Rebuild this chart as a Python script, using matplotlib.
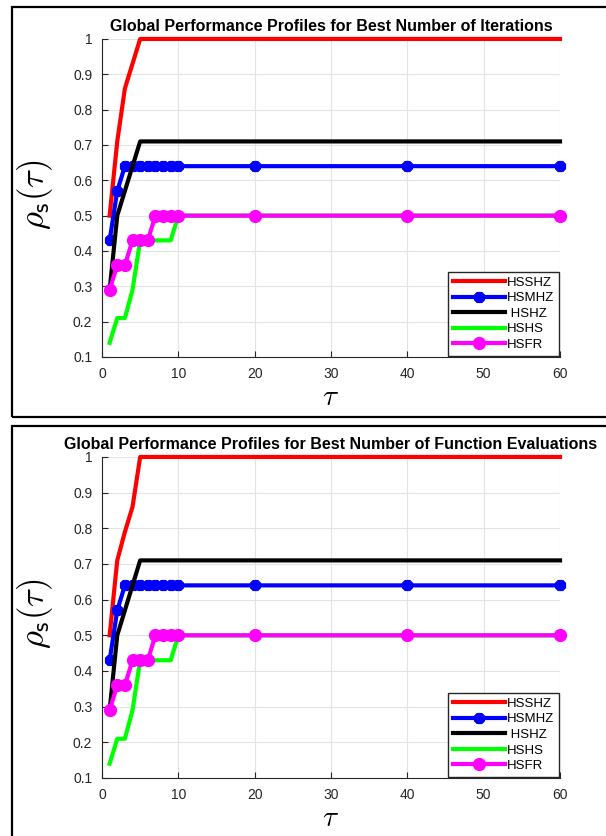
import numpy as np
import matplotlib
import matplotlib.pyplot as plt
from matplotlib.patches import Rectangle
matplotlib.use('Agg')

plt.rcParams['font.family'] = ['Liberation Sans', 'DejaVu Sans']
plt.rcParams['mathtext.fontset'] = 'cm'

# ------------ Data ------------ #
tau = [1, 2, 3, 4, 5, 6, 7, 8, 9, 10, 20, 40, 60]

hsshz_iter = [0.50, 0.71, 0.86, 0.93, 1.0, 1.0, 1.0, 1.0, 1.0, 1.0, 1.0, 1.0, 1.0]
hsshz_feval = [0.50, 0.71, 0.79, 0.86, 1.0, 1.0, 1.0, 1.0, 1.0, 1.0, 1.0, 1.0, 1.0]
hsmhz = [0.43, 0.57, 0.64, 0.64, 0.64, 0.64, 0.64, 0.64, 0.64, 0.64, 0.64, 0.64, 0.64]
hshz = [0.29, 0.50, 0.57, 0.64, 0.71, 0.71, 0.71, 0.71, 0.71, 0.71, 0.71, 0.71, 0.71]
hshs = [0.14, 0.21, 0.21, 0.29, 0.43, 0.43, 0.43, 0.43, 0.43, 0.50, 0.50, 0.50, 0.50]
hsfr = [0.29, 0.36, 0.36, 0.43, 0.43, 0.43, 0.50, 0.50, 0.50, 0.50, 0.50, 0.50, 0.50]

titles = ["Global Performance Profiles for Best Number of Iterations",
          "Global Performance Profiles for Best Number of Function Evaluations"]
names = ["HSSHZ", "HSMHZ", " HSHZ", "HSHS", "HSFR"]


def draw_profile(ax, red_vals, title):
    ax.plot(tau, red_vals, color='#ff0000', lw=3, label=names[0], clip_on=False)
    ax.plot(tau, hsmhz, color='#0000ff', lw=3, marker=(8, 2, 0), ms=8, mew=3,
            label=names[1], clip_on=False)
    ax.plot(tau, hshz, color='black', lw=3, label=names[2], clip_on=False)
    ax.plot(tau, hshs, color='#00ff00', lw=3, label=names[3], clip_on=False)
    ax.plot(tau, hsfr, color='#ff00ff', lw=3, marker='o', ms=8.5, mfc='#ff00ff',
            label=names[4], clip_on=False)

    ax.set_xlim(0, 60)
    ax.set_ylim(0.1, 1.0)
    ax.set_xticks(np.arange(0, 61, 10))
    ax.set_yticks(np.arange(0.1, 1.01, 0.1))
    ax.set_yticklabels(["0.1", "0.2", "0.3", "0.4", "0.5", "0.6", "0.7", "0.8", "0.9", "1"])
    ax.grid(True, color='#e3e3e3', lw=0.8)
    ax.set_axisbelow(True)
    for s in ['top', 'right']:
        ax.spines[s].set_visible(False)
    for s in ['left', 'bottom']:
        ax.spines[s].set_color('#262626')
        ax.spines[s].set_linewidth(0.8)
    ax.tick_params(direction='in', length=4, labelsize=10, colors='#262626', pad=7)
    ax.set_title(title, fontsize=11.5, fontweight='bold', pad=6)
    ax.set_xlabel(r'$\tau$', fontsize=21, labelpad=2)
    ax.set_ylabel(r'$\rho_{\mathsf{s}}(\tau)$', fontsize=25)
    ax.yaxis.set_label_coords(-0.102, 0.51)
    leg = ax.legend(loc='lower right', fontsize=9.5, handlelength=4.0, handletextpad=0.1,
                    labelspacing=0.25, borderpad=0.35, fancybox=False, framealpha=1,
                    borderaxespad=0.1)
    leg.get_frame().set_edgecolor('#262626')
    leg.get_frame().set_linewidth(1.0)


fig = plt.figure(figsize=(6.06, 8.36), dpi=100)

ax1 = fig.add_axes([0.1683, 0.5730, 0.7558, 0.3804])
ax2 = fig.add_axes([0.1683, 0.0694, 0.7558, 0.3840])
draw_profile(ax1, hsshz_iter, titles[0])
draw_profile(ax2, hsshz_feval, titles[1])

# outer frames round each panel
fig.patches.append(Rectangle((12 / 606, 1 - 417 / 836), 0.99, 410 / 836, transform=fig.transFigure,
                             fill=False, edgecolor='black', lw=1.6, clip_on=False))
fig.patches.append(Rectangle((12 / 606, -0.05), 0.99, 0.05 + 1 - 426 / 836, transform=fig.transFigure,
                             fill=False, edgecolor='black', lw=1.6, clip_on=False))

fig.savefig('out.png', dpi=100)
